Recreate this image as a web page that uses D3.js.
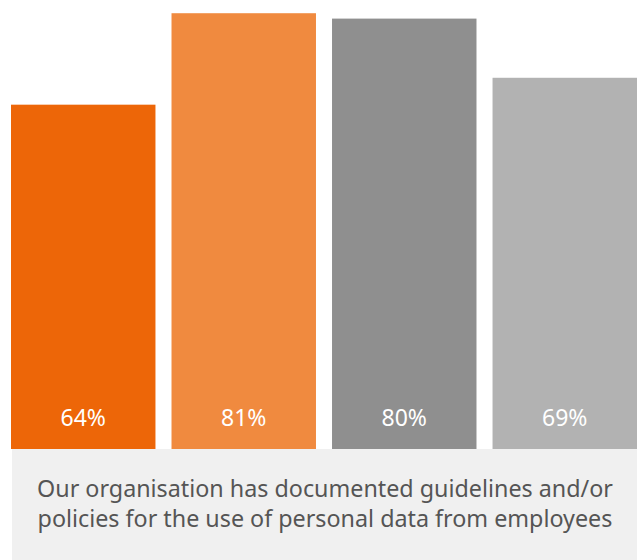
<!DOCTYPE html>
<html>
<head>
<meta charset="utf-8">
<script src="https://cdn.jsdelivr.net/npm/d3@7"></script>
<style>
  body { margin: 0; background: #fff; }
</style>
</head>
<body>
<script>
var categories = ["A", "B", "C", "D"];
var values = [64, 81, 80, 69];
var barColors = ["#ed6608", "#f08a3f", "#8f8f8f", "#b2b2b2"];
var captionLines = ["Our organisation has documented guidelines and/or",
                    "policies for the use of personal data from employees"];

var width = 638,
    height = 560,
    baseline = 449;

var svg = d3.select("body").append("svg")
    .attr("width", width)
    .attr("height", height);

var x = d3.scaleBand()
    .domain(categories)
    .range([11, 637])
    .paddingInner(0.1)
    .paddingOuter(0);

// 100% would sit above the top edge
var y = d3.scaleLinear()
    .domain([0, 100])
    .range([baseline, baseline - 538]);

svg.selectAll("rect.bar")
    .data(values)
    .enter()
    .append("rect")
    .attr("class", "bar")
    .attr("x", function(d, i) { return x(categories[i]); })
    .attr("y", function(d) { return y(d); })
    .attr("width", x.bandwidth())
    .attr("height", function(d) { return y(0) - y(d); })
    .attr("fill", function(d, i) { return barColors[i]; });

svg.selectAll("text.val")
    .data(values)
    .enter()
    .append("text")
    .attr("class", "val")
    .attr("x", function(d, i) { return x(categories[i]) + x.bandwidth() / 2; })
    .attr("y", 426)
    .attr("text-anchor", "middle")
    .attr("fill", "#fff")
    .style("font-family", "'Noto Sans', sans-serif")
    .style("font-size", "23px")
    .text(function(d) { return d + "%"; });

// caption box
svg.append("rect")
    .attr("x", 12)
    .attr("y", baseline)
    .attr("width", 625)
    .attr("height", height - baseline)
    .attr("fill", "#f0f0f0");

svg.selectAll("text.caption")
    .data(captionLines)
    .enter()
    .append("text")
    .attr("class", "caption")
    .attr("x", 325)
    .attr("y", function(d, i) { return 497 + i * 30; })
    .attr("text-anchor", "middle")
    .attr("fill", "#555")
    .style("font-family", "'Noto Sans', sans-serif")
    .style("font-size", "23.3px")
    .text(function(d) { return d; });
</script>
</body>
</html>
